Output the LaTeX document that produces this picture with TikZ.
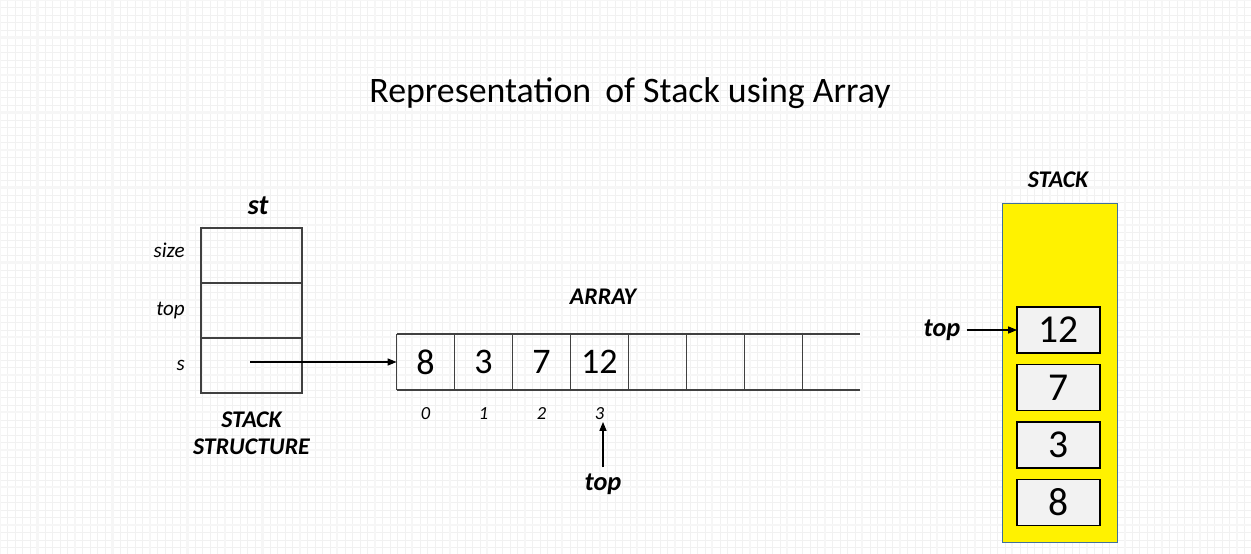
\documentclass[tikz,border=0pt]{standalone}
\usepackage{fontspec}
\setmainfont{Carlito}
\usetikzlibrary{arrows.meta,positioning}
\definecolor{stackedge}{RGB}{65,113,156}

\begin{document}
\begin{tikzpicture}[x=0.02cm,y=-0.02cm]

\tikzset{gridline/.style={gray!11,line width=0.3pt},
  field/.style={draw=black!75,line width=0.8pt,outer sep=0pt,minimum width=2.02cm,minimum height=1.1cm},
  arrcell/.style={outer sep=0pt,minimum width=1.16cm,minimum height=1.12cm,font=\fontsize{20.5}{22}\selectfont},
  stackcell/.style={draw=black,fill=gray!10,line width=0.8pt,outer sep=0pt,minimum width=1.66cm,minimum height=0.92cm,font=\fontsize{22.5}{24}\selectfont},
  fieldname/.style={font=\itshape\fontsize{12}{14}\selectfont},
  index/.style={font=\itshape\fontsize{10.5}{12}\selectfont},
  heading/.style={font=\bfseries\itshape\fontsize{13.6}{15.5}\selectfont,align=center},
  toplabel/.style={font=\bfseries\itshape\fontsize{15}{17}\selectfont},
  pointer/.style={-{Triangle[length=5pt,width=4pt]},line width=0.6pt}}

\useasboundingbox[fill=white] (0,0) rectangle (1251,554);
\draw[gridline,step=0.15cm] (0,0) grid (1251,554);
\draw[gray!7,line width=1.2pt,step=0.75cm] (0,0) grid (1251,554);

\node[font=\fontsize{20.4}{24}\selectfont] (title) at (630,93) {Representation\, of Stack using Array};

\node[field] (size) at (251.5,255.5) {};
\node[field,below=0pt of size] (topf) {};
\node[field,below=0pt of topf] (sf) {};
\node[fieldname,left=0.2cm of size,yshift=0.1cm] {size};
\node[fieldname,left=0.2cm of topf] {top};
\node[fieldname,left=0.2cm of sf] {s};
\node[heading,font=\bfseries\itshape\fontsize{16}{18}\selectfont] (st) at (258,206) {st};
\node[heading,below=0.25cm of sf] (sname) {STACK\\STRUCTURE};
\coordinate (sptr) at (250,362);

\node[arrcell] (c0) at (425.5,362) {8};
\node[arrcell,right=0pt of c0] (c1) {3};
\node[arrcell,right=0pt of c1] (c2) {7};
\node[arrcell,right=0pt of c2] (c3) {12};
\node[arrcell,right=0pt of c3] (c4) {};
\node[arrcell,right=0pt of c4] (c5) {};
\node[arrcell,right=0pt of c5] (c6) {};
\node[arrcell,right=0pt of c6] (c7) {};
\draw[black!75,line width=0.8pt] (c0.north west) -- (c7.north east) (c0.south west) -- (c7.south east);
\foreach \i in {0,...,7}
  \draw[black!75,line width=0.8pt] (c\i.north west) -- (c\i.south west);
\foreach \i in {0,...,3}
  \node[index,below=0.22cm of c\i] (i\i) {\i};
\node[heading] (aname) at (603,297) {ARRAY};
\draw[pointer] (sptr) -- (c0.west);

\node[toplabel] (atop) at (603,484) {top};
\coordinate (atip) at (603,422);
\draw[pointer] (atop.north) -- (atip);

\node[draw=stackedge,fill=yellow,line width=0.5pt,minimum width=2.3cm,minimum height=6.78cm] (stack) at (1059.5,373) {};
\node[heading] (kname) at (1058,180) {STACK};
\node[stackcell] (k12) at (1058.5,330) {12};
\node[stackcell,below=0.23cm of k12] (k7) {7};
\node[stackcell,below=0.23cm of k7] (k3) {3};
\node[stackcell,below=0.23cm of k3] (k8) {8};
\node[toplabel] (ktop) at (942,330) {top};
\draw[pointer] (ktop.east) -- (k12.west);

\end{tikzpicture}
\end{document}
